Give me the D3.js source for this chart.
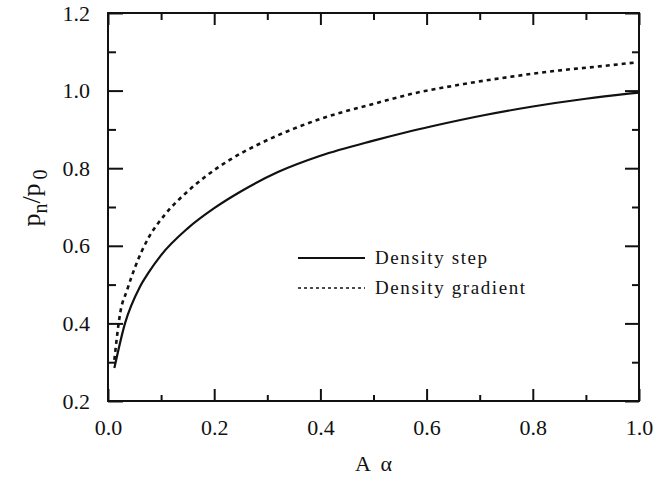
<!DOCTYPE html>
<html>
<head>
<meta charset="utf-8">
<script src="https://cdn.jsdelivr.net/npm/d3@7"></script>
<style>
  body { margin: 0; background: #fff; }
  text { font-family: "Liberation Serif", "DejaVu Serif", serif; fill: #111; }
</style>
</head>
<body>
<div id="chart"></div>
<script>
// values
const stepX = [0.012, 0.032, 0.06, 0.076, 0.10, 0.15, 0.20, 0.25, 0.32, 0.40, 0.50, 0.56, 0.61, 0.71, 0.80, 0.90, 0.98, 1.0]
const stepY = [0.285, 0.40, 0.494, 0.53, 0.576, 0.645, 0.697, 0.74, 0.79, 0.832, 0.871, 0.892, 0.908, 0.937, 0.959, 0.979, 0.992, 0.995]
const gradX = [0.012, 0.023, 0.036, 0.051, 0.076, 0.107, 0.149, 0.183, 0.23, 0.29, 0.35, 0.43, 0.49, 0.57, 0.67, 0.76, 0.85, 0.93, 0.99]
const gradY = [0.306, 0.427, 0.486, 0.545, 0.62, 0.68, 0.739, 0.778, 0.822, 0.866, 0.902, 0.94, 0.962, 0.991, 1.017, 1.036, 1.052, 1.063, 1.072]
const xTicks = [0, 0.2, 0.4, 0.6, 0.8, 1.0]
const yTicks = [0.2, 0.4, 0.6, 0.8, 1.0, 1.2]
const legendNames = ['Density step', 'Density gradient']

const W = 662, H = 494
const m = {left: 108, right: 23, top: 13, bottom: 93}

const svg = d3.select('#chart').append('svg').attr('width', W).attr('height', H)

const x = d3.scaleLinear().domain([0, 1]).range([m.left, W - m.right])
const y = d3.scaleLinear().domain([0.2, 1.2]).range([H - m.bottom, m.top])

const minorX = d3.range(0.1, 1.0, 0.2)
const minorY = d3.range(0.3, 1.2, 0.2)

// axes: ticks point inward on all four sides
svg.append('g').attr('transform', `translate(0,${y(0.2)})`)
  .call(d3.axisBottom(x).tickValues(xTicks).tickFormat(d3.format('.1f')).tickSizeInner(-12).tickSizeOuter(0).tickPadding(18))
svg.append('g').attr('transform', `translate(0,${y(0.2)})`)
  .call(d3.axisBottom(x).tickValues(minorX).tickFormat('').tickSizeInner(-6).tickSizeOuter(0))
svg.append('g').attr('transform', `translate(0,${y(1.2)})`)
  .call(d3.axisTop(x).tickValues(xTicks).tickFormat('').tickSizeInner(-12).tickSizeOuter(0))
svg.append('g').attr('transform', `translate(0,${y(1.2)})`)
  .call(d3.axisTop(x).tickValues(minorX).tickFormat('').tickSizeInner(-7).tickSizeOuter(0))

svg.append('g').attr('transform', `translate(${x(0)},0)`)
  .call(d3.axisLeft(y).tickValues(yTicks).tickFormat(d3.format('.1f')).tickSizeInner(-15).tickSizeOuter(0).tickPadding(18))
svg.append('g').attr('transform', `translate(${x(0)},0)`)
  .call(d3.axisLeft(y).tickValues(minorY).tickFormat('').tickSizeInner(-8).tickSizeOuter(0))
svg.append('g').attr('transform', `translate(${x(1)},0)`)
  .call(d3.axisRight(y).tickValues(yTicks).tickFormat('').tickSizeInner(-14).tickSizeOuter(0))
svg.append('g').attr('transform', `translate(${x(1)},0)`)
  .call(d3.axisRight(y).tickValues(minorY).tickFormat('').tickSizeInner(-7).tickSizeOuter(0))

svg.selectAll('.domain').remove()
svg.selectAll('.tick line').attr('stroke', '#111').attr('stroke-width', 2)
svg.selectAll('.tick text').style('font-size', '22px').attr('fill', '#222')

// frame
svg.append('rect')
  .attr('x', x(0)).attr('y', y(1.2))
  .attr('width', x(1) - x(0)).attr('height', y(0.2) - y(1.2))
  .attr('fill', 'none').attr('stroke', '#111').attr('stroke-width', 2)

// curves
const line = d3.line().x(d => x(d[0])).y(d => y(d[1])).curve(d3.curveMonotoneX)
const stepData = stepX.map((v, i) => [v, stepY[i]])
const gradData = gradX.map((v, i) => [v, gradY[i]])

svg.append('path').datum(stepData).attr('d', line)
  .attr('fill', 'none').attr('stroke', '#111').attr('stroke-width', 2.2)
svg.append('path').datum(gradData).attr('d', line)
  .attr('fill', 'none').attr('stroke', '#111').attr('stroke-width', 2.6).attr('stroke-dasharray', '4,4')

// legend
const leg = svg.append('g')
legendNames.forEach((name, i) => {
  const ly = 258 + i * 30
  leg.append('line').attr('x1', 298).attr('x2', 365).attr('y1', ly).attr('y2', ly)
    .attr('stroke', '#111').attr('stroke-width', i ? 1.6 : 2)
    .attr('stroke-dasharray', i ? '3,3' : null)
  leg.append('text').attr('x', 375).attr('y', ly + 6)
    .style('font-size', '19px').style('letter-spacing', '1.6px').text(name)
})

// axis titles
svg.append('text').attr('x', (x(0) + x(1)) / 2).attr('y', 471)
  .attr('text-anchor', 'middle').style('font-size', '22px').attr('xml:space', 'preserve').text('A  α')

const yl = svg.append('text').attr('transform', 'translate(40,198) rotate(-90)')
  .attr('text-anchor', 'middle').style('font-size', '26px')
yl.append('tspan').text('p')
yl.append('tspan').attr('dy', 7).style('font-size', '20px').text('n')
yl.append('tspan').attr('dy', -7).text('/p')
yl.append('tspan').attr('dy', 7).attr('dx', 4).style('font-size', '20px').text('0')
</script>
</body>
</html>
